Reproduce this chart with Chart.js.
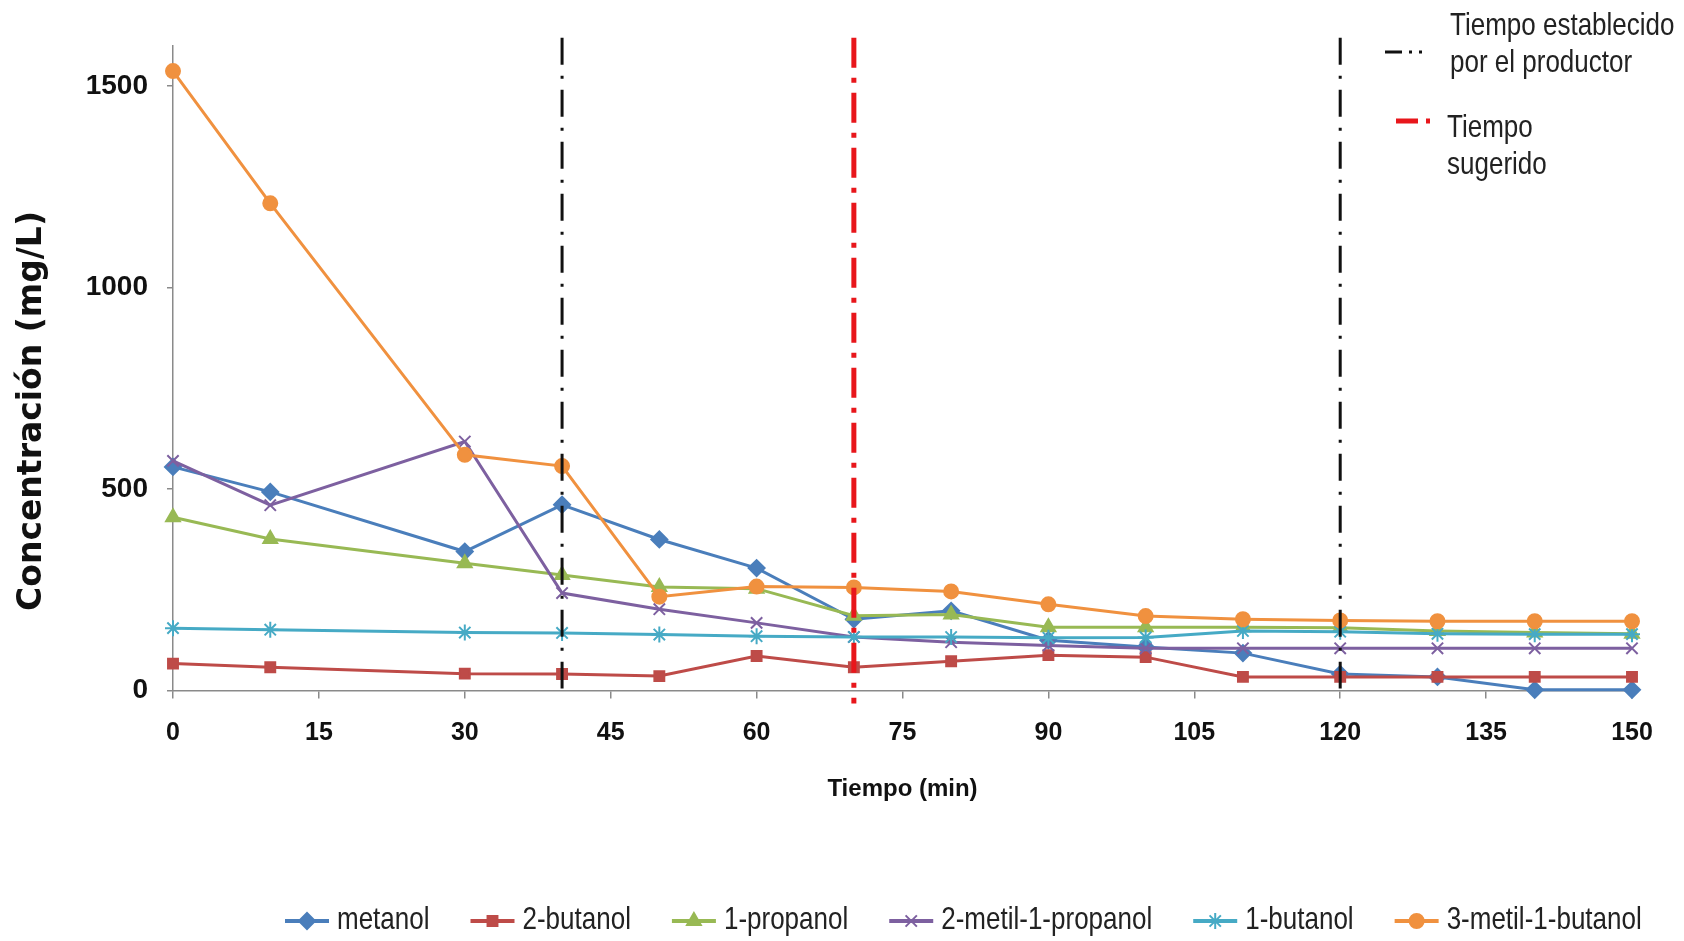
<!DOCTYPE html>
<html>
<head>
<meta charset="utf-8">
<script src="https://cdn.jsdelivr.net/npm/chart.js@4.4.1/dist/chart.umd.min.js"></script>
<style>
  html, body { margin: 0; padding: 0; background: #fff; }
</style>
</head>
<body>
<canvas id="chart" width="1684" height="941"></canvas>
<script>
// Sampling times (min)
const times = [0, 10, 30, 40, 50, 60, 70, 80, 90, 100, 110, 120, 130, 140, 150];

// Concentrations (mg/L)
const metanol = [555, 493, 345, 461, 375, 304, 177, 198, 125, 108, 93, 41, 34, 2, 2];
const butanol2 = [67, 58, 42, 41, 36, 86, 58, 73, 88, 83, 34, 34, 34, 34, 34];
const propanol1 = [430, 376, 316, 287, 257, 253, 186, 189, 157, 157, 157, 156, 148, 144, 141];
const metilPropanol = [570, 460, 618, 242, 202, 168, 133, 120, 112, 105, 105, 105, 105, 105, 105];
const butanol1 = [155, 151, 144, 143, 139, 135, 133, 133, 131, 132, 148, 146, 141, 140, 140];
const metilButanol = [1537, 1209, 585, 557, 233, 258, 256, 246, 214, 185, 177, 174, 172, 172, 172];

const seriesNames = ['metanol', '2-butanol', '1-propanol', '2-metil-1-propanol', '1-butanol', '3-metil-1-butanol'];

// Axis ticks and reference times
const yTicks = [0, 500, 1000, 1500];
const producerTimes = [40, 120];
const suggestedTime = 70;

const FONT = "'Liberation Sans', Arial, sans-serif";

const toPoints = values => values.map((v, i) => ({ x: times[i], y: v }));

const makeSeries = (label, values, color, style, radius) => ({
    label: label,
    data: toPoints(values),
    borderColor: color,
    backgroundColor: color,
    pointBackgroundColor: color,
    pointBorderColor: color,
    pointStyle: style,
    pointRadius: radius,
    pointBorderWidth: 2,
    borderWidth: 3,
    tension: 0,
    clip: false
});

const datasets = [
    makeSeries(seriesNames[0], metanol, '#4A7EBB', 'rectRot', 8),
    makeSeries(seriesNames[1], butanol2, '#BE4B48', 'rect', 7),
    makeSeries(seriesNames[2], propanol1, '#98B954', 'triangle', 8),
    makeSeries(seriesNames[3], metilPropanol, '#7D60A0', 'crossRot', 8),
    makeSeries(seriesNames[4], butanol1, '#46AAC5', 'star', 8),
    makeSeries(seriesNames[5], metilButanol, '#F0913F', 'circle', 7)
];
// later series sit on top, like the original
datasets.forEach((ds, i) => { ds.order = datasets.length - i; });

// Vertical time markers (drawn above the series)
const timeMarkers = {
    id: 'timeMarkers',
    afterDatasetsDraw(chart) {
        const { ctx, scales: { x, y } } = chart;
        ctx.save();
        ctx.lineCap = 'butt';
        ctx.strokeStyle = '#111';
        ctx.lineWidth = 3;
        ctx.setLineDash([27, 11, 3, 11]);
        producerTimes.forEach(t => {
            const px = x.getPixelForValue(t);
            ctx.beginPath();
            ctx.moveTo(px, y.getPixelForValue(1620));
            ctx.lineTo(px, y.getPixelForValue(5));
            ctx.stroke();
        });
        ctx.strokeStyle = '#E8161B';
        ctx.lineWidth = 5;
        ctx.setLineDash([30, 10, 5, 10]);
        const rx = x.getPixelForValue(suggestedTime);
        ctx.beginPath();
        ctx.moveTo(rx, y.getPixelForValue(1620));
        ctx.lineTo(rx, y.getPixelForValue(-32));
        ctx.stroke();
        ctx.restore();
    }
};

// text a bit taller than wide, like the stretched original
const tallText = (ctx, text, x, y) => {
    ctx.save();
    ctx.translate(x, y);
    ctx.scale(1, 1.18);
    ctx.fillText(text, 0, 0);
    ctx.restore();
};

// Y axis title, series legend and marker key
const extras = {
    id: 'extras',
    afterDraw(chart) {
        const ctx = chart.ctx;
        ctx.save();

        // y title
        ctx.translate(32, 411);
        ctx.rotate(-Math.PI / 2);
        ctx.font = "bold 33px 'DejaVu Sans', sans-serif";
        ctx.fillStyle = '#111';
        ctx.textAlign = 'center';
        ctx.textBaseline = 'middle';
        ctx.fillText('Concentración (mg/L)', 0, 0);
        ctx.setTransform(1, 0, 0, 1, 0, 0);

        // series legend along the bottom
        ctx.font = '26px ' + FONT;
        ctx.textAlign = 'left';
        ctx.textBaseline = 'middle';
        let lx = 285;
        const ly = 921;
        chart.data.datasets.forEach(ds => {
            ctx.setLineDash([]);
            ctx.strokeStyle = ds.borderColor;
            ctx.lineWidth = 4;
            ctx.beginPath();
            ctx.moveTo(lx, ly);
            ctx.lineTo(lx + 44, ly);
            ctx.stroke();
            ctx.fillStyle = ds.backgroundColor;
            ctx.lineWidth = 2;
            Chart.helpers.drawPoint(ctx, { pointStyle: ds.pointStyle, radius: ds.pointRadius, borderWidth: 2, rotation: 0 }, lx + 22, ly);
            ctx.fillStyle = '#222';
            tallText(ctx, ds.label, lx + 52, ly);
            lx += 52 + ctx.measureText(ds.label).width + 41;
        });

        // key for the vertical markers
        ctx.lineWidth = 3;
        ctx.strokeStyle = '#111';
        ctx.setLineDash([17, 7, 3, 7, 3, 20]);
        ctx.beginPath();
        ctx.moveTo(1385, 52);
        ctx.lineTo(1430, 52);
        ctx.stroke();
        ctx.lineWidth = 5;
        ctx.strokeStyle = '#E8161B';
        ctx.setLineDash([22, 8, 4, 20]);
        ctx.beginPath();
        ctx.moveTo(1396, 121);
        ctx.lineTo(1432, 121);
        ctx.stroke();

        ctx.fillStyle = '#222';
        tallText(ctx, 'Tiempo establecido', 1450, 27);
        tallText(ctx, 'por el productor', 1450, 64);
        tallText(ctx, 'Tiempo', 1447, 129);
        tallText(ctx, 'sugerido', 1447, 166);
        ctx.restore();
    }
};

new Chart(document.getElementById('chart').getContext('2d'), {
    type: 'line',
    data: { datasets: datasets },
    options: {
        responsive: false,
        animation: false,
        layout: { padding: { top: 45.7, right: 52, bottom: 133, left: 0 } },
        plugins: {
            legend: { display: false },
            tooltip: { enabled: false }
        },
        scales: {
            x: {
                type: 'linear',
                min: 0,
                max: 150,
                ticks: { stepSize: 15, padding: 20, color: '#111', font: { family: FONT, size: 25, weight: 'bold' } },
                grid: { drawOnChartArea: false, tickLength: 8, color: '#8a8a8a', lineWidth: 1.5 },
                border: { display: true, color: '#8a8a8a', width: 1.5 },
                title: {
                    display: true,
                    text: 'Tiempo (min)',
                    color: '#111',
                    padding: { top: 0, bottom: 4 },
                    font: { family: FONT, size: 24, weight: 'bold' }
                },
                afterFit(scale) { scale.height = 117.4; }
            },
            y: {
                min: 0,
                max: 1600,
                afterBuildTicks(scale) { scale.ticks = yTicks.map(v => ({ value: v })); },
                ticks: {
                    padding: 19,
                    color: '#111',
                    font: { family: FONT, size: 28, weight: 'bold' },
                    callback: v => String(v)
                },
                grid: { drawOnChartArea: false, tickLength: 6, color: '#8a8a8a', lineWidth: 1.5 },
                border: { display: true, color: '#8a8a8a', width: 1.5 },
                afterFit(scale) { scale.width = 173; }
            }
        }
    },
    plugins: [timeMarkers, extras]
});
</script>
</body>
</html>
